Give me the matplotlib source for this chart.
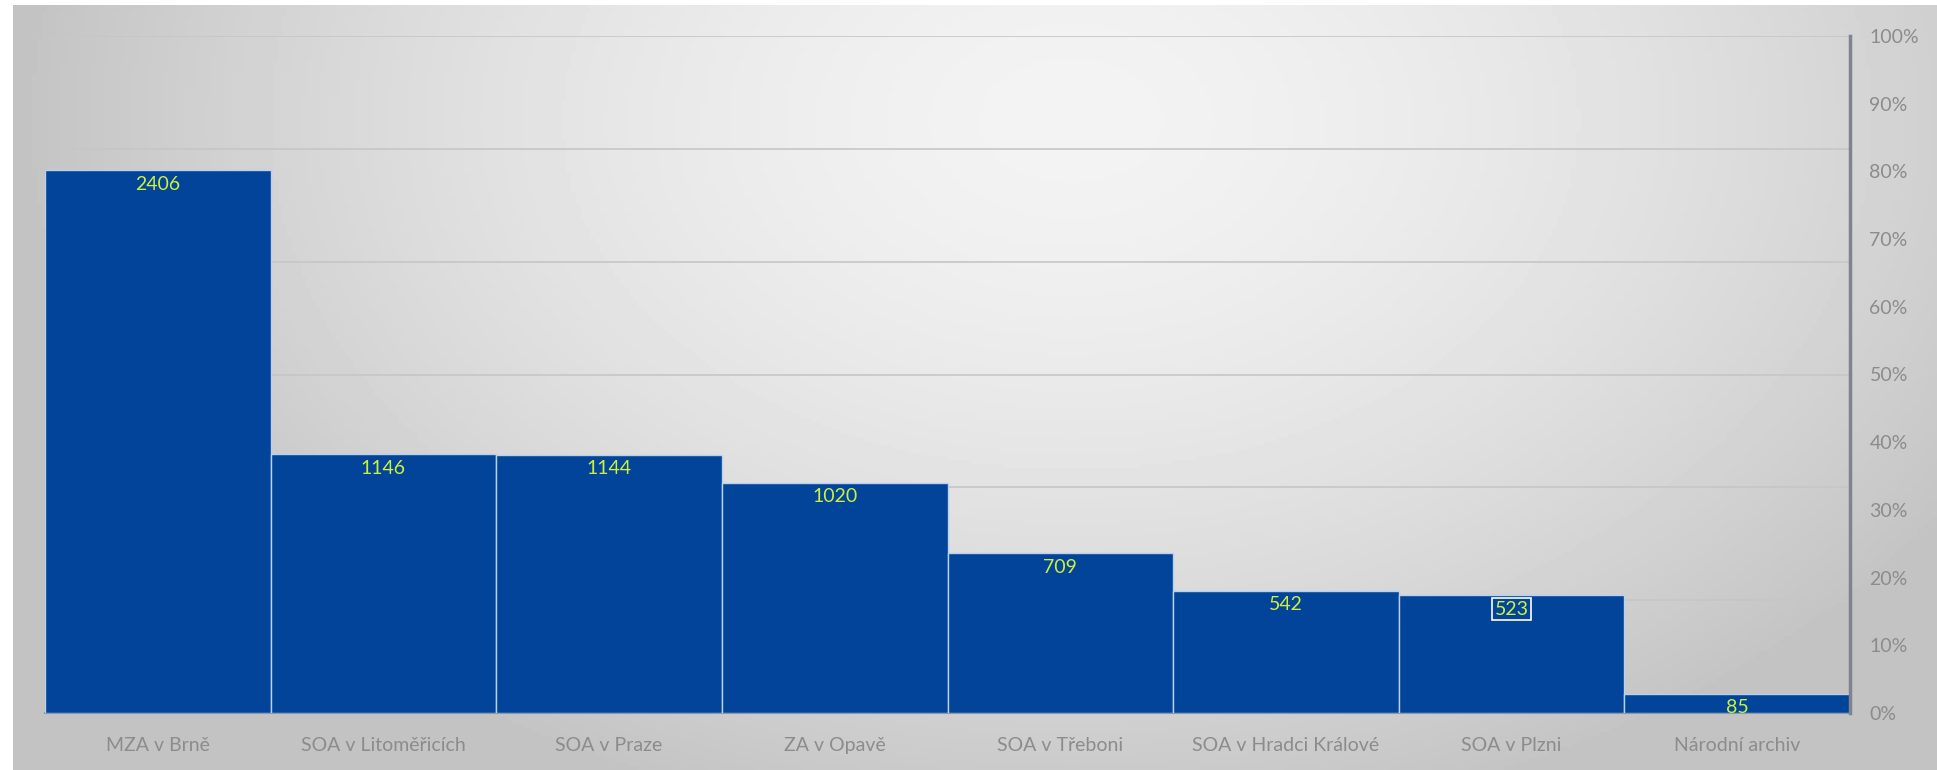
import numpy as np
import matplotlib
matplotlib.use('Agg')
import matplotlib.pyplot as plt
from matplotlib.ticker import PercentFormatter, MultipleLocator

# data
archives = ['MZA v Brně', 'SOA v Litoměřicích', 'SOA v Praze', 'ZA v Opavě',
            'SOA v Třeboni', 'SOA v Hradci Králové', 'SOA v Plzni', 'Národní archiv']
counts = [2406, 1146, 1144, 1020, 709, 542, 523, 85]
boxed = 'SOA v Plzni'   # label shown with a white frame

W, H = 1937, 770
plt.rcParams['font.family'] = ['Lato', 'DejaVu Sans']

fig = plt.figure(figsize=(W/100, H/100), dpi=100, facecolor='white')

# chart area with soft radial gradient
bg = fig.add_axes([13/W, 0, 1-13/W, 1-5/H])
gx, gy = np.meshgrid(np.linspace(0, 1, 400), np.linspace(0, 1, 200))
d = np.sqrt(((gx-0.55)/0.55)**2 + ((gy-0.15)/0.95)**2)
shade = np.clip(243 - 48*d**1.6, 195, 243)/255.0
bg.imshow(shade, cmap='gray', vmin=0, vmax=1, aspect='auto', extent=[0, 1, 1, 0])
bg.set_axis_off()

ax = fig.add_axes([45/W, 1-713/H, (1850-45)/W, (713-36)/H])
ax.patch.set_alpha(0)
x = np.arange(len(archives))
bars = ax.bar(x, counts, width=1.0, color='#01449a', edgecolor='#b9d1ee', linewidth=1, zorder=3)
ax.set_xlim(-0.5, len(archives)-0.5)
ax.set_ylim(0, 3000)
ax.yaxis.set_major_locator(MultipleLocator(500))
ax.grid(axis='y', color='#c6c6c6', linewidth=1.2, zorder=0)
ax.set_axisbelow(True)
ax.set_xticks(x)
ax.set_xticklabels(archives, color='#8c8c8c', fontsize=14)
ax.tick_params(axis='x', length=0, pad=17)
for s in ['top', 'left', 'right']:
    ax.spines[s].set_visible(False)
ax.spines['bottom'].set_color('#8e97aa')
ax.spines['bottom'].set_linewidth(1.5)

for i, (b, v) in enumerate(zip(bars, counts)):
    kw = {}
    if archives[i] == boxed:
        kw['bbox'] = dict(boxstyle='square,pad=0.12', fc='none', ec='white', lw=1.2)
    ax.annotate(str(v), (b.get_x()+b.get_width()/2, v), xytext=(0, -4),
                textcoords='offset points', ha='center', va='top',
                color='#ccf03c', fontsize=14, zorder=5, **kw)

ax2 = ax.twinx()
ax2.set_ylim(0, 1)
ax2.yaxis.set_major_locator(MultipleLocator(0.1))
ax2.yaxis.set_major_formatter(PercentFormatter(1.0, decimals=0))
ax2.tick_params(axis='y', length=0, pad=14, labelsize=14, labelcolor='#8c8c8c')
for s in ['top', 'left', 'bottom']:
    ax2.spines[s].set_visible(False)
ax2.spines['right'].set_color('#7f838e')
ax2.spines['right'].set_linewidth(2.5)
# twinx turns the left ticks back on
ax.tick_params(axis='y', left=False, right=False, labelleft=False, labelright=False)

fig.savefig('out.png', dpi=100, facecolor='white')
